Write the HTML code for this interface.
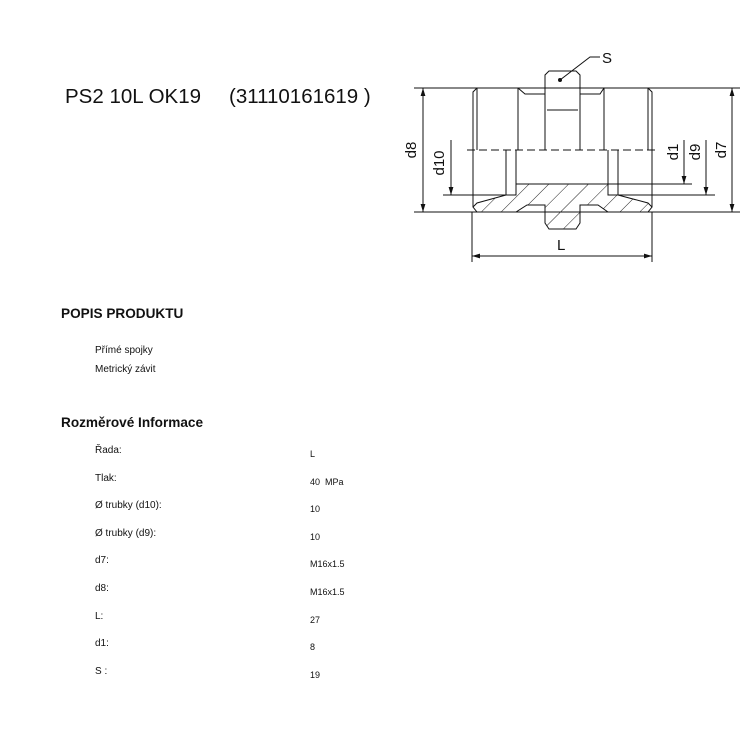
<!DOCTYPE html>
<html><head><meta charset="utf-8"><style>
html,body{margin:0;padding:0;background:#fff;width:750px;height:750px;overflow:hidden}
svg{display:block}
text{font-family:"Liberation Sans",Arial,sans-serif;fill:#111}
</style></head><body>
<svg width="750" height="750" viewBox="0 0 750 750" xmlns="http://www.w3.org/2000/svg">
<defs>
<pattern id="h" width="14" height="14" patternUnits="userSpaceOnUse" patternTransform="rotate(45)">
<line x1="0" y1="0" x2="0" y2="14" stroke="#222" stroke-width="1"/>
</pattern>
<marker id="a" viewBox="0 0 10 10" refX="10" refY="5" markerWidth="8" markerHeight="8" orient="auto-start-reverse"><path d="M0,2 L10,5 L0,8 z" fill="#111"/></marker>
</defs>
<text x="65" y="103" font-size="20.5">PS2 10L OK19</text>
<text x="229" y="103" font-size="20.5">(31110161619 )</text>

<g stroke="#111" stroke-width="1" fill="none">
<line x1="414" y1="88" x2="740" y2="88"/>
<line x1="414" y1="212" x2="740" y2="212"/>
<path d="M516,184 L608,184 L608,195 L618,195 L648,203 L652,207 L648,212 L608,212 L598,205 L580,205 L580,223 L576,229 L549,229 L545,223 L545,205 L527,205 L516,212 L477,212 L473,207 L477,203 L506,195 L516,195 Z" fill="url(#h)"/>
<path d="M473,207 L473,92 L477,88 L518,88 L525,94 L545,94 L545,75 L549,71 L576,71 L580,75 L580,94 L600,94 L604,88 L648,88 L652,92 L652,207"/>
<line x1="477" y1="88" x2="477" y2="150"/>
<line x1="648" y1="88" x2="648" y2="150"/>
<line x1="518" y1="88" x2="518" y2="150"/>
<line x1="604" y1="88" x2="604" y2="150"/>
<line x1="545" y1="94" x2="545" y2="150"/>
<line x1="580" y1="94" x2="580" y2="150"/>
<line x1="547" y1="110" x2="578" y2="110"/>
<line x1="467" y1="150" x2="657" y2="150" stroke-dasharray="8,4"/>
<line x1="506" y1="150" x2="506" y2="195"/>
<line x1="516" y1="150" x2="516" y2="195"/>
<line x1="608" y1="150" x2="608" y2="195"/>
<line x1="618" y1="150" x2="618" y2="195"/>
<line x1="443" y1="195" x2="506" y2="195"/>
<line x1="618" y1="195" x2="715" y2="195"/>
<line x1="608" y1="184" x2="692" y2="184"/>
<line x1="423" y1="88" x2="423" y2="212" marker-start="url(#a)" marker-end="url(#a)"/>
<line x1="732" y1="88" x2="732" y2="212" marker-start="url(#a)" marker-end="url(#a)"/>
<line x1="451" y1="140" x2="451" y2="195" marker-end="url(#a)"/>
<line x1="706" y1="140" x2="706" y2="195" marker-end="url(#a)"/>
<line x1="684" y1="140" x2="684" y2="184" marker-end="url(#a)"/>
<line x1="472" y1="212" x2="472" y2="262"/>
<line x1="652" y1="212" x2="652" y2="262"/>
<line x1="472" y1="256" x2="652" y2="256" marker-start="url(#a)" marker-end="url(#a)"/>
<polyline points="560,80 590,57 600,57"/>
</g>
<circle cx="560" cy="80" r="2" fill="#111"/>
<text x="602" y="63" font-size="15">S</text>
<text x="557" y="250" font-size="15">L</text>
<text transform="translate(416,150) rotate(-90)" font-size="15" text-anchor="middle">d8</text>
<text transform="translate(444,163) rotate(-90)" font-size="15" text-anchor="middle">d10</text>
<text transform="translate(678,152) rotate(-90)" font-size="15" text-anchor="middle">d1</text>
<text transform="translate(700,152) rotate(-90)" font-size="15" text-anchor="middle">d9</text>
<text transform="translate(726,150) rotate(-90)" font-size="15" text-anchor="middle">d7</text>

<text x="61" y="318" font-size="13.6" font-weight="bold">POPIS PRODUKTU</text>
<text x="95" y="353" font-size="10">Přímé spojky</text>
<text x="95" y="372" font-size="10">Metrický závit</text>
<text x="61" y="427" font-size="13.6" font-weight="bold">Rozměrové Informace</text>
<g font-size="10">
<text x="95" y="453">Řada:</text>
<text x="95" y="481">Tlak:</text>
<text x="95" y="508">Ø trubky (d10):</text>
<text x="95" y="536">Ø trubky (d9):</text>
<text x="95" y="563">d7:</text>
<text x="95" y="591">d8:</text>
<text x="95" y="619">L:</text>
<text x="95" y="646">d1:</text>
<text x="95" y="674">S :</text>
</g>
<g font-size="9">
<text x="310" y="457">L</text>
<text x="310" y="485" xml:space="preserve">40  MPa</text>
<text x="310" y="512">10</text>
<text x="310" y="540">10</text>
<text x="310" y="567">M16x1.5</text>
<text x="310" y="595">M16x1.5</text>
<text x="310" y="623">27</text>
<text x="310" y="650">8</text>
<text x="310" y="678">19</text>
</g>
</svg>
</body></html>
